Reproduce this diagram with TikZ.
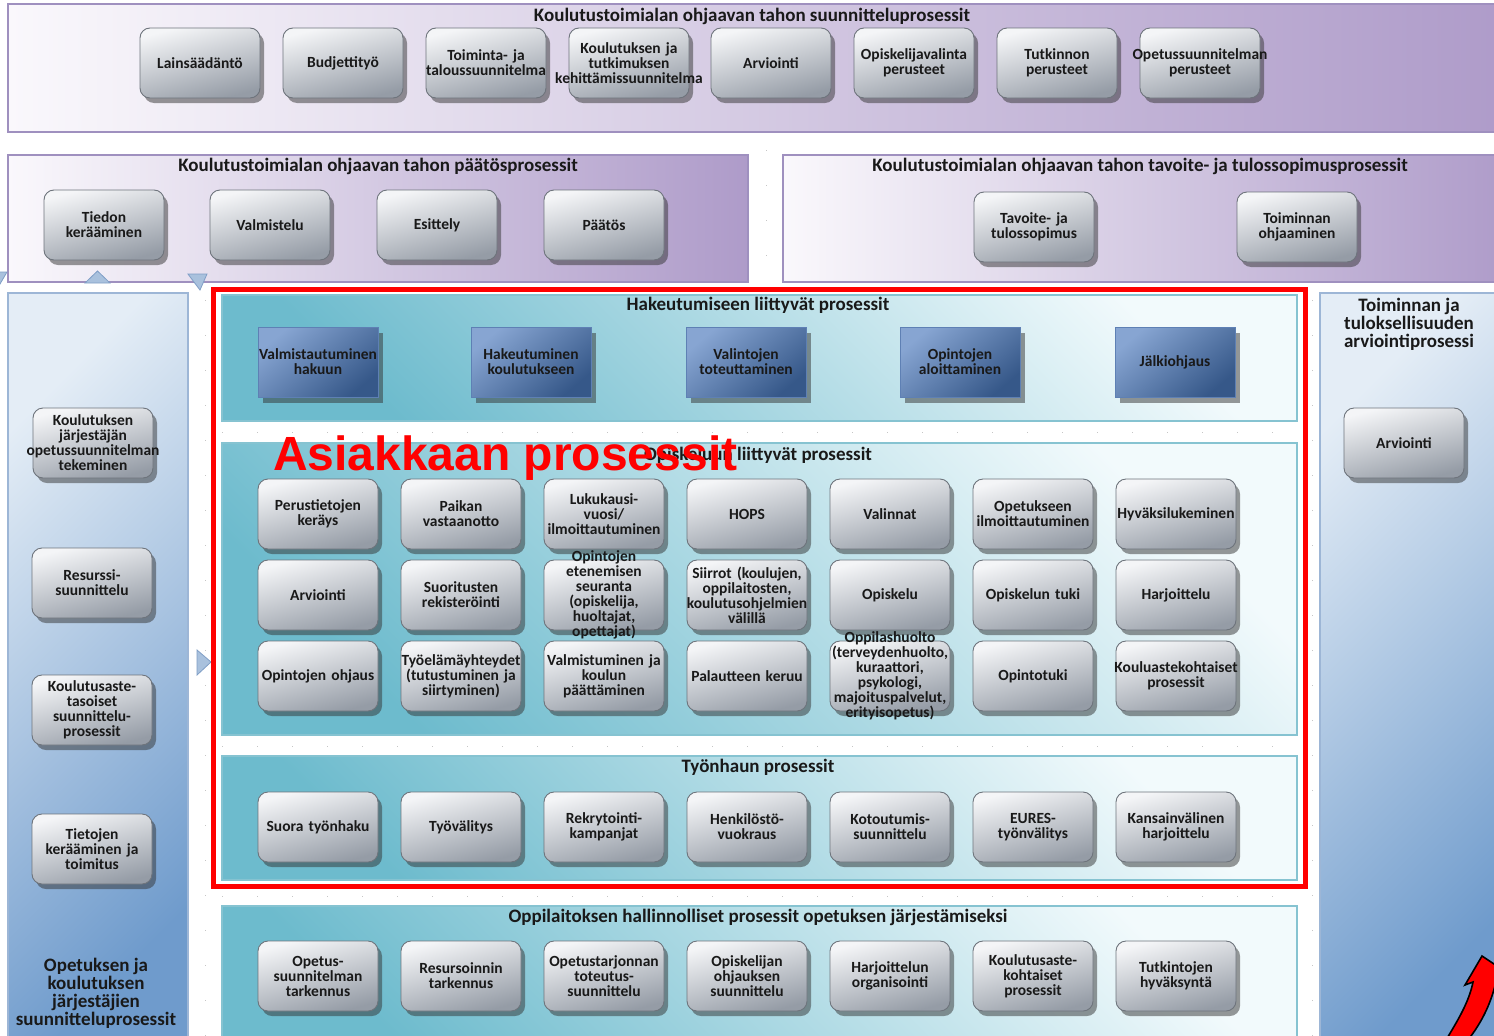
\documentclass[tikz,border=0pt]{standalone}
\usepackage{fontspec}
\setmainfont{Carlito}
\newfontfamily\arialfont{Liberation Sans}
\usetikzlibrary{shadows}
\definecolor{gtop}{HTML}{F4F5F7}
\definecolor{gbot}{HTML}{959CA6}
\definecolor{gborder}{HTML}{6E747C}
\definecolor{btop}{HTML}{87A5D2}
\definecolor{bbot}{HTML}{365889}
\definecolor{bborder}{HTML}{5E80B4}
\definecolor{pleft}{HTML}{FAF8FC}
\definecolor{pright}{HTML}{AE9BC9}
\definecolor{pborder}{HTML}{9F90BF}
\definecolor{tlight}{HTML}{F2FAFC}
\definecolor{tdark}{HTML}{6DBBCD}
\definecolor{tborder}{HTML}{86C3D1}
\definecolor{clight}{HTML}{E4EDF6}
\definecolor{cdark}{HTML}{6F9BCC}
\definecolor{cborder}{HTML}{9DB6D6}
\definecolor{trifill}{HTML}{A9C1DD}
\definecolor{triborder}{HTML}{7F9EC6}
\tikzset{
  gbox/.style={draw=gborder, line width=0.9pt, rounded corners=10pt,
    minimum width=120pt, minimum height=70pt, inner sep=0pt,
    top color=gtop, bottom color=gbot, shading angle=15,
    drop shadow={shadow xshift=4pt, shadow yshift=-5pt, fill=black!80, opacity=0.5}},
  bsq/.style={draw=bborder, line width=0.9pt,
    minimum width=120pt, minimum height=70pt, inner sep=0pt,
    top color=btop, bottom color=bbot, shading angle=40,
    drop shadow={shadow xshift=5pt, shadow yshift=-6pt, fill=black!80, opacity=0.5}},
  btxt/.style={text width=170pt, align=center, inner sep=0pt,
    font=\fontsize{15.5}{15}\selectfont\bfseries, text=black!90},
  ttl/.style={font=\fontsize{19}{19}\selectfont\bfseries, inner sep=0pt, text=black!90},
  coltxt/.style={font=\fontsize{19}{18}\selectfont\bfseries, inner sep=0pt, align=center, text=black!90},
  ppanel/.style={draw=pborder, line width=1.3pt, left color=pleft, right color=pright},
  tpanel/.style={draw=tborder, line width=1.3pt, top color=tlight, bottom color=tdark, shading angle=-45},
  cpanel/.style={draw=cborder, line width=1.3pt, top color=clight, bottom color=cdark, shading angle=45},
  faint/.style={gray!45, line width=0.8pt, dash pattern=on 1pt off 34pt},
  tri/.style={fill=trifill, draw=triborder, line width=0.8pt},
}
\newcommand\gb[3]{\node[gbox] (#1) at (#2) {}; \node[btxt] (#1-t) at (#1.center) {#3};}
\newcommand\bq[3]{\node[bsq] (#1) at (#2) {}; \node[btxt] (#1-t) at (#1.center) {#3};}
\begin{document}
\begin{tikzpicture}[x=1pt,y=-1pt]
\useasboundingbox (0,0) rectangle (1494,1036);
\begin{scope}
\clip (0,0) rectangle (1494,1036);
\fill[white] (0,0) rectangle (1494,1036);

% faint dotted guide lines
\draw[faint] (222,432) -- (1297,432);
\draw[faint] (222,746) -- (1297,746);
\draw[faint] (222,896) -- (1297,896);
\draw[faint] (766,150) -- (766,290);
\draw[faint] (205,300) -- (205,1036);
\draw[faint] (1312,300) -- (1312,1036);

% ---------- top panel
\path[ppanel] (8,4) rectangle (1510,132);
\node[ttl] (t1) at (752,16) {Koulutustoimialan ohjaavan tahon suunnitteluprosessit};
\gb{a1}{200,63}{Lainsäädäntö}
\gb{a2}{343,63}{Budjettityö}
\gb{a3}{486,63}{Toiminta- ja\\taloussuunnitelma}
\gb{a4}{629,63}{Koulutuksen ja\\tutkimuksen\\kehittämissuunnitelma}
\gb{a5}{771,63}{Arviointi}
\gb{a6}{914,63}{Opiskelijavalinta\\perusteet}
\gb{a7}{1057,63}{Tutkinnon\\perusteet}
\gb{a8}{1200,63}{Opetussuunnitelman\\perusteet}

% ---------- second row panels
\path[ppanel] (8,155) rectangle (748,282);
\node[ttl] (t2) at (378,166) {Koulutustoimialan ohjaavan tahon päätösprosessit};
\gb{b1}{104,225}{Tiedon\\kerääminen}
\gb{b2}{270,225}{Valmistelu}
\gb{b3}{437,225}{Esittely}
\gb{b4}{604,225}{Päätös}

\path[ppanel] (783,155) rectangle (1510,282);
\node[ttl] (t3) at (1140,166) {Koulutustoimialan ohjaavan tahon tavoite- ja tulossopimusprosessit};
\gb{c1}{1034,227}{Tavoite- ja\\tulossopimus}
\gb{c2}{1297,227}{Toiminnan\\ohjaaminen}

% triangles
\path[tri] (85,283) -- (110,283) -- (97.5,271) -- cycle;
\path[tri] (188,274) -- (207,274) -- (200,290) -- cycle;
\path[tri] (-4,272) -- (7,272) -- (0,284) -- cycle;
\path[tri] (197,650) -- (211,662) -- (197,675) -- cycle;

% ---------- left column
\path[cpanel] (8,293) rectangle (188,1045);
\gb{l1}{93,443}{Koulutuksen\\järjestäjän\\opetussuunnitelman\\tekeminen}
\gb{l2}{92,583}{Resurssi-\\suunnittelu}
\gb{l3}{92,710}{Koulutusaste-\\tasoiset\\suunnittelu-\\prosessit}
\gb{l4}{92,849}{Tietojen\\kerääminen ja\\toimitus}
\node[coltxt] (lcap) at (96,993) {Opetuksen ja\\koulutuksen\\järjestäjien\\suunnitteluprosessit};

% ---------- right column
\path[cpanel] (1320,293) rectangle (1510,1045);
\node[coltxt] (rcap) at (1409,324) {Toiminnan ja\\tuloksellisuuden\\arviointiprosessi};
\gb{r1}{1404,443}{Arviointi}

% ---------- Hakeutumiseen
\path[tpanel] (222,295) rectangle (1297,421);
\node[ttl] (t4) at (758,305) {Hakeutumiseen liittyvät prosessit};
\bq{h1}{318,362}{Valmistautuminen\\hakuun}
\bq{h2}{531,362}{Hakeutuminen\\koulutukseen}
\bq{h3}{746,362}{Valintojen\\toteuttaminen}
\bq{h4}{960,362}{Opintojen\\aloittaminen}
\bq{h5}{1175,362}{Jälkiohjaus}

% ---------- Opiskeluun
\path[tpanel] (222,443) rectangle (1297,735);
\node[ttl] (t5) at (758,455) {Opiskeluun liittyvät prosessit};
\gb{o11}{318,514}{Perustietojen\\keräys}
\gb{o12}{461,514}{Paikan\\vastaanotto}
\gb{o13}{604,514}{Lukukausi-\\vuosi/\\ilmoittautuminen}
\gb{o14}{747,514}{HOPS}
\gb{o15}{890,514}{Valinnat}
\gb{o16}{1033,514}{Opetukseen\\ilmoittautuminen}
\gb{o17}{1176,514}{Hyväksilukeminen}
\gb{o21}{318,595}{Arviointi}
\gb{o22}{461,595}{Suoritusten\\rekisteröinti}
\gb{o23}{604,595}{Opintojen\\etenemisen\\seuranta\\(opiskelija,\\huoltajat,\\opettajat)}
\gb{o24}{747,595}{Siirrot (koulujen,\\oppilaitosten,\\koulutusohjelmien\\välillä}
\gb{o25}{890,595}{Opiskelu}
\gb{o26}{1033,595}{Opiskelun tuki}
\gb{o27}{1176,595}{Harjoittelu}
\gb{o31}{318,676}{Opintojen ohjaus}
\gb{o32}{461,676}{Työelämäyhteydet\\(tutustuminen ja\\siirtyminen)}
\gb{o33}{604,676}{Valmistuminen ja\\koulun\\päättäminen}
\gb{o34}{747,676}{Palautteen keruu}
\gb{o35}{890,676}{Oppilashuolto\\(terveydenhuolto,\\kuraattori,\\psykologi,\\majoituspalvelut,\\erityisopetus)}
\gb{o36}{1033,676}{Opintotuki}
\gb{o37}{1176,676}{Kouluastekohtaiset\\prosessit}

% ---------- Tyonhaun
\path[tpanel] (222,756) rectangle (1297,880);
\node[ttl] (t6) at (758,767) {Työnhaun prosessit};
\gb{w1}{318,827}{Suora työnhaku}
\gb{w2}{461,827}{Työvälitys}
\gb{w3}{604,827}{Rekrytointi-\\kampanjat}
\gb{w4}{747,827}{Henkilöstö-\\vuokraus}
\gb{w5}{890,827}{Kotoutumis-\\suunnittelu}
\gb{w6}{1033,827}{EURES-\\työnvälitys}
\gb{w7}{1176,827}{Kansainvälinen\\harjoittelu}

% ---------- Oppilaitoksen
\path[tpanel] (222,906) rectangle (1297,1045);
\node[ttl] (t7) at (758,917) {Oppilaitoksen hallinnolliset prosessit opetuksen järjestämiseksi};
\gb{p1}{318,976}{Opetus-\\suunnitelman\\tarkennus}
\gb{p2}{461,976}{Resursoinnin\\tarkennus}
\gb{p3}{604,976}{Opetustarjonnan\\toteutus-\\suunnittelu}
\gb{p4}{747,976}{Opiskelijan\\ohjauksen\\suunnittelu}
\gb{p5}{890,976}{Harjoittelun\\organisointi}
\gb{p6}{1033,976}{Koulutusaste-\\kohtaiset\\prosessit}
\gb{p7}{1176,976}{Tutkintojen\\hyväksyntä}

% ---------- red frame and label
\draw[red, line width=5pt] (213,289) rectangle (1305,886);
\node[anchor=base west, inner sep=0pt, text=red, font=\arialfont\bfseries\fontsize{48}{48}\selectfont] (asiakas) at (273,470) {Asiakkaan prosessit};

% ---------- red curved arrow
\path[fill=red, draw=black, line width=1.6pt, line join=miter]
  (1446,1040) .. controls (1458,1020) and (1469,1002) .. (1473,982)
  -- (1465,985) -- (1482,956) -- (1506,972) -- (1497,977)
  .. controls (1492,1002) and (1482,1022) .. (1468,1040) -- cycle;
\end{scope}
\end{tikzpicture}
\end{document}
